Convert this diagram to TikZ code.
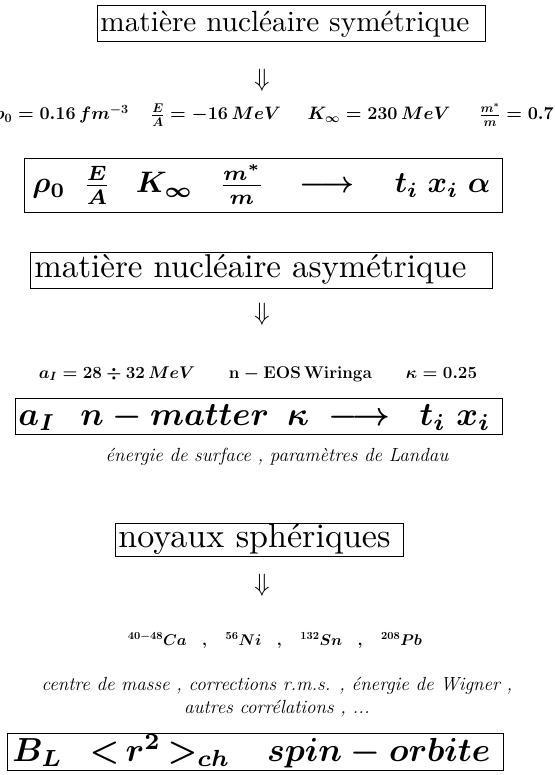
\RequirePackage{fix-cm}
\documentclass[tikz,border=0pt]{standalone}
\usepackage{amsmath}
\usepackage{graphicx}
\usepackage{fontspec}
\newfontfamily\tenrm{lmroman10-regular}[Extension=.otf]
\begin{document}
\begin{tikzpicture}[x=1pt,y=-1pt,
  boxnode/.style={draw, line width=0.8pt, anchor=north west, inner ysep=0pt, align=left},
  titlebox/.style={boxnode, font=\tenrm},
  valrow/.style={font=\fontsize{17}{20}\selectfont\boldmath, inner sep=0pt},
  firstrow/.style={valrow, font=\fontsize{18}{21}\selectfont\boldmath},
  comment/.style={font=\fontsize{19}{22.5}\selectfont\itshape, inner sep=0pt, align=center},
  dnarrow/.style={font=\fontsize{25}{27}\selectfont, inner sep=0pt}]
\useasboundingbox (0,0) rectangle (554,775);
\fill[white] (0,0) rectangle (554,775);
% box 1
\node[titlebox, inner xsep=3pt, text width=382pt, text height=26pt, text depth=10pt] (b1) at (97,5) {\resizebox{369pt}{!}{matière nucléaire symétrique}};
\node[dnarrow] (d1) at (262,80) {$\Downarrow$};
\node[firstrow, anchor=base east] (v1a) at (129,120) {$\rho_0 = 0.16\,fm^{-3}$};
\node[firstrow, anchor=base] (v1b) at (216,120) {$\frac{E}{A} = -16\,MeV$};
\node[firstrow, anchor=base] (v1c) at (379,120) {$K_\infty = 230\,MeV$};
\node[firstrow, anchor=base east] (v1d) at (554,120) {$\frac{m^*}{m} = 0.7$};
% box 2
\node[boxnode, inner xsep=8pt, font=\boldmath, text width=462pt, text height=34.5pt, text depth=19.5pt] (b2) at (24,158) {\resizebox{458pt}{!}{$\rho_0\hspace{0.6em}\frac{E}{A}\hspace{0.85em}K_\infty\hspace{0.9em}\frac{m^*}{m}\hspace{1.2em}{\longrightarrow}\hspace{1.35em}t_i\;x_i\;\alpha$}};
% box 3
\node[titlebox, inner xsep=4pt, text width=454pt, text height=25pt, text depth=11pt] (b3) at (30,252) {\resizebox{432pt}{!}{matière nucléaire asymétrique}};
\node[dnarrow] (d2) at (262,314) {$\Downarrow$};
\node[valrow, anchor=base] (v2) at (258,378) {$a_I = 28 \div 32\,MeV\qquad \mathrm{\mathbf{n - EOS\,Wiringa}}\qquad \kappa = 0.25$};
% box 4
\node[boxnode, inner xsep=3pt, font=\boldmath, text width=481pt, text height=27pt, text depth=9pt] (b4) at (15,398) {\resizebox{472pt}{!}{$a_I\hspace{0.75em}n - matter\hspace{0.55em}\kappa\hspace{0.6em}{\longrightarrow}\hspace{0.9em}t_i\;x_i$}};
\node[comment] (c1) at (277,457) {énergie de surface , paramètres de Landau};
% box 5
\node[titlebox, inner xsep=3pt, text width=282pt, text height=24pt, text depth=9pt] (b5) at (115,523) {\resizebox{272pt}{!}{noyaux sphériques}};
\node[dnarrow] (d3) at (262,585) {$\Downarrow$};
\node[valrow, font=\fontsize{15.5}{19}\selectfont\boldmath, anchor=base] (v3) at (275,645) {${}^{40-48}Ca\quad ,\quad {}^{56}Ni\quad ,\quad {}^{132}Sn\quad ,\quad {}^{208}Pb$};
\node[comment] (c2) at (277,697) {centre de masse , corrections r.m.s. , énergie de Wigner ,\\ autres corrélations , ...};
% box 6
\node[boxnode, inner xsep=5pt, font=\boldmath, text width=486pt, text height=28pt, text depth=9pt] (b6) at (7,733) {\resizebox{478pt}{!}{$B_L\hspace{0.8em}{<}\,r^2\,{>}_{ch}\hspace{1.1em}spin - orbite$}};
\end{tikzpicture}
\end{document}
